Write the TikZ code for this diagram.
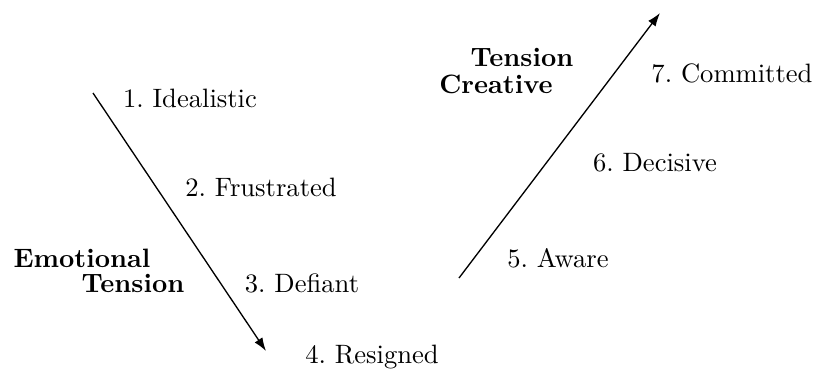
\documentclass[tikz,border=0pt]{standalone}
\usetikzlibrary{arrows.meta}
\begin{document}
\begin{tikzpicture}[x=0.376pt,y=-0.376pt,
  lbl/.style={inner sep=0pt,font=\normalsize},
  head/.style={inner sep=0pt,font=\bfseries},
  trend/.style={-{Latex[length=5pt,width=3.5pt]},line width=0.5pt}]
\useasboundingbox (0,0) rectangle (821,377);
\coordinate (d0) at (93,93);
\coordinate (d1) at (266,351);
\coordinate (u0) at (459,278);
\coordinate (u1) at (660,13);
\draw[trend] (d0) -- (d1);
\draw[trend] (u0) -- (u1);
\node[lbl] (n1) at (190,98) {1.\ Idealistic};
\node[lbl] (n2) at (261,187) {2.\ Frustrated};
\node[lbl] (n3) at (302,283) {3.\ Defiant};
\node[lbl] (n4) at (372,357) {4.\ Resigned};
\node[lbl] (n5) at (558,258) {5.\ Aware};
\node[lbl] (n6) at (655,163) {6.\ Decisive};
\node[lbl] (n7) at (732,73) {7.\ Committed};
\node[head] (emo) at (82,258) {Emotional};
\node[head] (emt) at (133,283) {Tension};
\node[head] (ten) at (522,57) {Tension};
\node[head] (cre) at (496,84) {Creative};
\end{tikzpicture}
\end{document}
